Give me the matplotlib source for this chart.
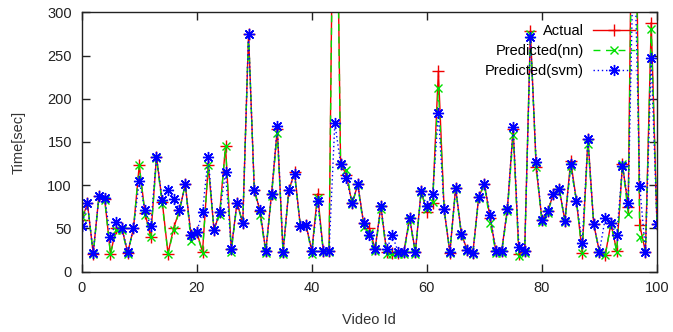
import numpy as np
import matplotlib
matplotlib.use("Agg")
import matplotlib.pyplot as plt

# values (video id 0..100)
actual = [60, 79, 21, 88, 84, 21, 50, 50, 22, 50,
          123, 68, 40, 133, 81, 21, 51, 71, 101, 42,
          46, 23, 123, 48, 69, 145, 26, 80, 56, 275,
          95, 70, 24, 90, 165, 23, 94, 115, 53, 54,
          24, 90, 24, 24, 650, 125, 112, 79, 101, 56,
          51, 26, 76, 23, 22, 22, 23, 62, 23, 93,
          69, 80, 232, 72, 22, 97, 44, 25, 22, 86,
          102, 62, 24, 24, 73, 165, 21, 24, 278, 121,
          60, 70, 90, 96, 59, 128, 82, 22, 154, 55,
          23, 19, 56, 24, 124, 75, 650, 54, 23, 288,
          55]
pred_nn = [63, 79, 20, 87, 83, 20, 48, 48, 21, 50,
           123, 66, 40, 131, 78, 21, 48, 71, 101, 35,
           45, 22, 123, 48, 66, 145, 23, 79, 56, 275,
           95, 66, 22, 88, 160, 21, 94, 113, 53, 54,
           21, 85, 23, 23, 630, 123, 118, 78, 100, 52,
           45, 24, 73, 20, 20, 20, 21, 60, 21, 92,
           72, 81, 212, 72, 22, 96, 42, 24, 21, 85,
           101, 56, 22, 22, 70, 158, 18, 22, 275, 121,
           58, 68, 90, 95, 58, 122, 82, 22, 148, 55,
           22, 19, 55, 23, 124, 67, 600, 40, 23, 281,
           55]
pred_svm = [53, 79, 22, 88, 85, 40, 58, 50, 23, 50,
            105, 71, 53, 133, 83, 95, 84, 71, 101, 42,
            46, 69, 133, 48, 69, 115, 26, 80, 56, 275,
            95, 71, 24, 90, 169, 23, 94, 113, 53, 54,
            24, 82, 24, 24, 172, 125, 108, 79, 101, 56,
            42, 26, 76, 26, 42, 23, 23, 62, 23, 93,
            76, 90, 183, 72, 23, 97, 44, 25, 22, 86,
            102, 66, 24, 24, 73, 167, 29, 24, 271, 127,
            60, 70, 90, 96, 59, 124, 82, 33, 154, 55,
            23, 62, 56, 42, 122, 80, 400, 99, 23, 247,
            55]
video_id = np.arange(len(actual))

plt.rcParams['font.family'] = ['Liberation Sans', 'DejaVu Sans']
plt.rcParams['font.size'] = 10.5

fig = plt.figure(figsize=(6.73, 3.32), dpi=100)
ax = fig.add_axes([0.1214, 0.1816, 0.8548, 0.7814])

asterisk = (8, 2, 0)
ax.plot(video_id, actual, color='#f00000', lw=1.0, marker='+', ms=8, mew=1.0,
        label='Actual')
ax.plot(video_id, pred_nn, color='#00e000', lw=1.0, ls=(0, (5, 4)), marker='x',
        ms=6, mew=1.0, label='Predicted(nn)')
ax.plot(video_id, pred_svm, color='#0000ff', lw=1.0, ls=(0, (1, 2)), marker=asterisk,
        ms=8, mew=1.0, label='Predicted(svm)')

ax.set_xlim(0, 100)
ax.set_ylim(0, 300)
ax.set_xticks(np.arange(0, 101, 20))
ax.set_yticks(np.arange(0, 301, 50))
ax.tick_params(direction='in', length=6, width=1, top=True, right=True,
               labelsize=10.5, colors='#222222', pad=7)
for s in ax.spines.values():
    s.set_linewidth(1.0)
    s.set_color('#222222')

ax.set_xlabel('Video Id', color='#333333', labelpad=13)
ax.set_ylabel('Time[sec]', color='#333333', labelpad=16)

leg = ax.legend(loc='upper right', bbox_to_anchor=(0.972, 0.977), frameon=False,
                markerfirst=False, handlelength=2.9, labelspacing=0.4,
                borderaxespad=0.0, handletextpad=0.6, fontsize=10.5)

fig.savefig('out.png', dpi=100)
